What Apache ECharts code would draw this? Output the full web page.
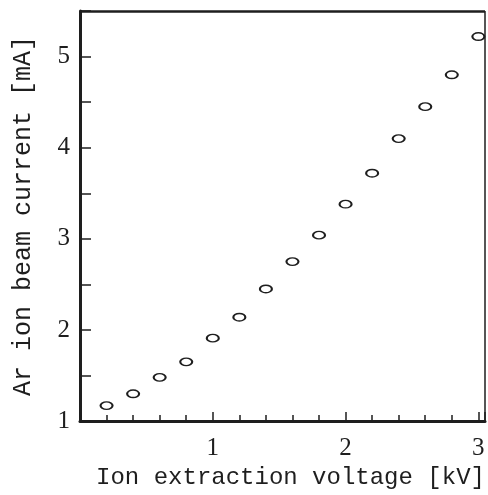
<!DOCTYPE html>
<html>
<head>
<meta charset="utf-8">
<script src="https://cdn.jsdelivr.net/npm/echarts@6/dist/echarts.min.js"></script>
<style>
html,body{margin:0;padding:0;background:#fff;}
#chart{width:488px;height:495px;}
</style>
</head>
<body>
<div id="chart"></div>
<script>
const voltage = [0.2, 0.4, 0.6, 0.8, 1.0, 1.2, 1.4, 1.6, 1.8, 2.0, 2.2, 2.4, 2.6, 2.8, 3.0];
const current = [1.17, 1.30, 1.48, 1.65, 1.91, 2.14, 2.45, 2.75, 3.04, 3.38, 3.72, 4.10, 4.45, 4.80, 5.22];
const xTitle = 'Ion extraction voltage [kV]';
const yTitle = 'Ar ion beam current [mA]';

const ink = '#1e1e1e';
const xMin = 0, xMax = 3.05, yMin = 1, yMax = 5.5;
const chart = echarts.init(document.getElementById('chart'), null, {renderer: 'canvas'});
const isWhole = v => Math.abs(v - Math.round(v)) < 1e-6;

chart.setOption({
  animation: false,
  backgroundColor: '#fff',
  grid: {left: 80, right: 2, top: 11, bottom: 66, containLabel: false},
  xAxis: {
    type: 'value', min: xMin, max: xMax, interval: 1,
    axisLine: {show: true, onZero: false, lineStyle: {color: ink, width: 3}},
    axisTick: {show: true, inside: true, length: 9, lineStyle: {color: ink, width: 1.5}},
    minorTick: {show: true, splitNumber: 5, length: 6, lineStyle: {color: ink, width: 1.5}},
    axisLabel: {
      show: true, margin: 15, color: ink, fontFamily: 'Liberation Serif', fontSize: 25,
      showMinLabel: false,
      formatter: v => (isWhole(v) && v > 0.5) ? String(Math.round(v)) : ''
    },
    splitLine: {show: false},
    minorSplitLine: {show: false},
    name: xTitle, nameLocation: 'middle', nameGap: 40,
    nameTextStyle: {color: ink, fontFamily: 'Liberation Mono', fontSize: 24, padding: [0, 0, 0, 16]}
  },
  yAxis: {
    type: 'value', min: yMin, max: yMax, interval: 1,
    axisLine: {show: true, onZero: false, lineStyle: {color: ink, width: 3}},
    axisTick: {show: true, inside: true, length: 11, lineStyle: {color: ink, width: 1.5}},
    minorTick: {show: true, splitNumber: 2, length: 11, lineStyle: {color: ink, width: 1.5}},
    axisLabel: {
      show: true, margin: 10, color: ink, fontFamily: 'Liberation Serif', fontSize: 25,
      showMaxLabel: false,
      formatter: v => isWhole(v) ? String(Math.round(v)) : ''
    },
    splitLine: {show: false},
    minorSplitLine: {show: false},
    name: yTitle, nameLocation: 'middle', nameGap: 44,
    nameTextStyle: {color: ink, fontFamily: 'Liberation Mono', fontSize: 25}
  },
  series: [{
    type: 'scatter',
    clip: false,
    data: voltage.map((v, i) => [v, current[i]]),
    symbol: 'circle',
    symbolSize: [12, 7.5],
    itemStyle: {color: '#fff', borderColor: ink, borderWidth: 1.7, opacity: 1},
    z: 5,
    markLine: {
      silent: true,
      symbol: ['none', 'none'],
      label: {show: false},
      emphasis: {disabled: true},
      data: [
        [{coord: [xMin, yMax], lineStyle: {color: ink, width: 2.5, type: 'solid'}},
         {coord: [xMax, yMax]}],
        [{coord: [xMax, yMin], lineStyle: {color: ink, width: 1.5, type: 'solid'}},
         {coord: [xMax, yMax]}]
      ]
    }
  }]
});
</script>
</body>
</html>
